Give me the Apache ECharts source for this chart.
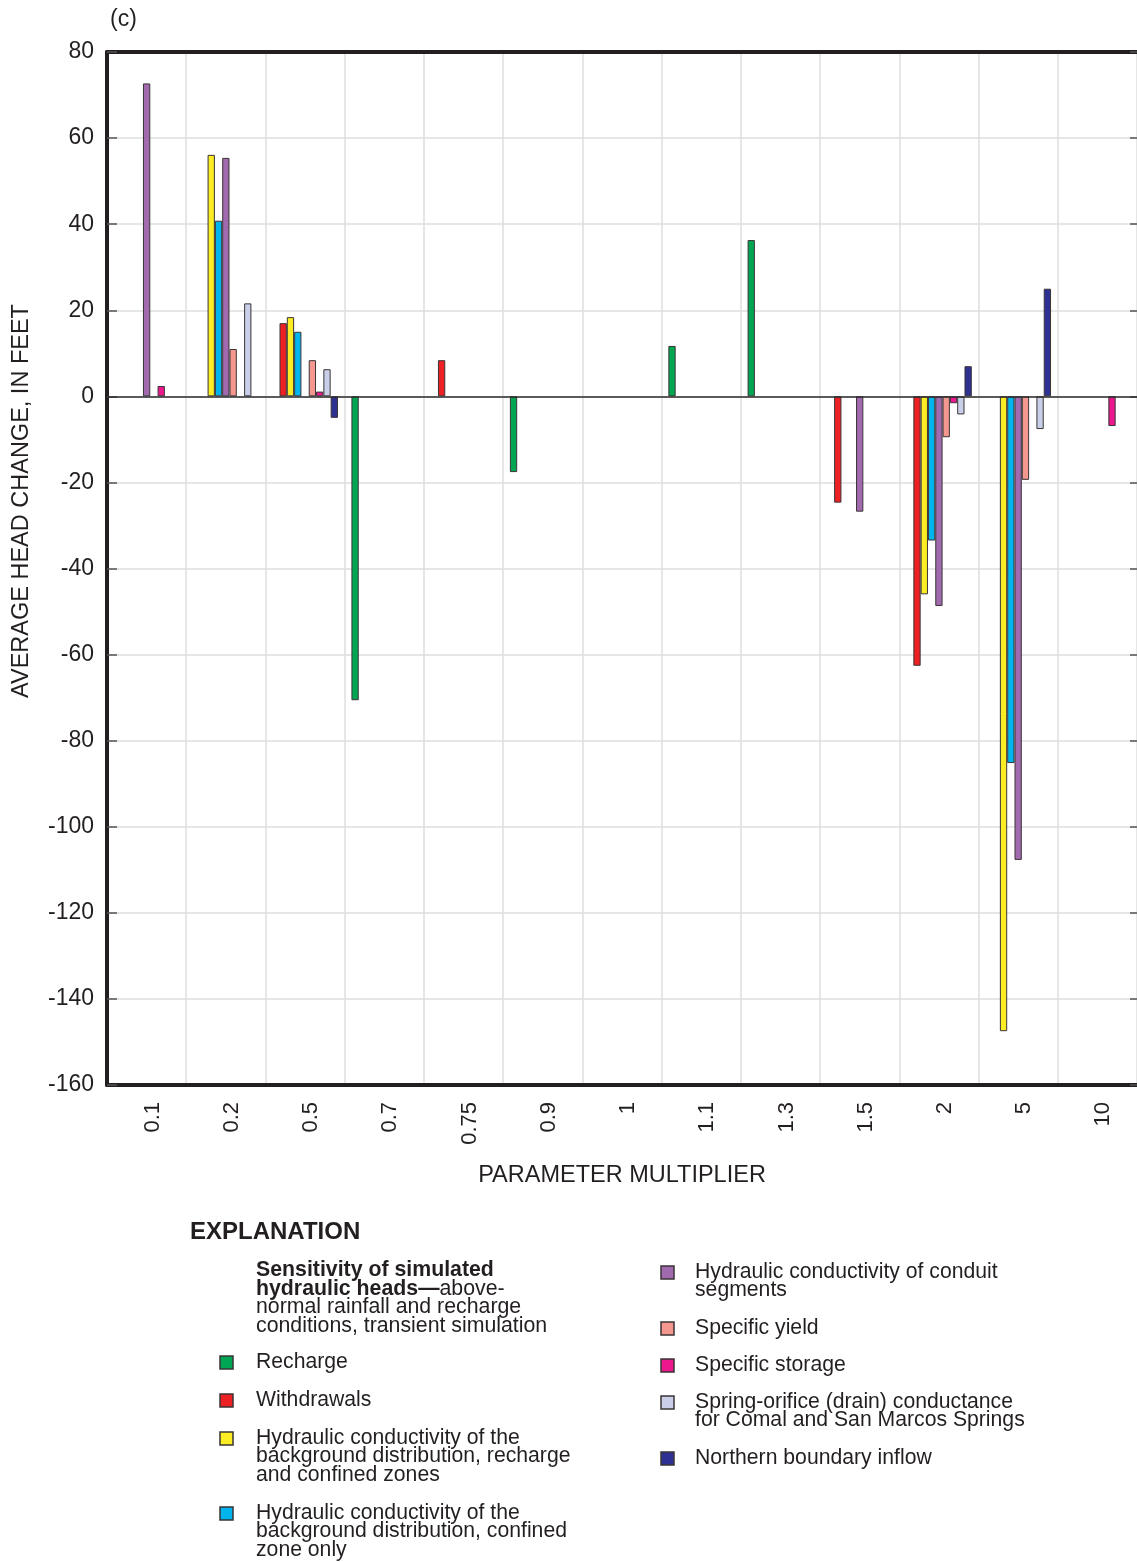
<!DOCTYPE html>
<html>
<head>
<meta charset="utf-8">
<script src="https://cdn.jsdelivr.net/npm/echarts@6/dist/echarts.min.js"></script>
<style>
html,body{margin:0;padding:0;background:#fff;}
#chart{width:1137px;height:1562px;}
</style>
</head>
<body>
<div id="chart"></div>
<script>
// ---- data ----
const categories = ['0.1','0.2','0.5','0.7','0.75','0.9','1','1.1','1.3','1.5','2','5','10'];
const yTicks = [-160,-140,-120,-100,-80,-60,-40,-20,0,20,40,60,80];

const recharge        = [null, null, null, -70.6, null, -17.6, null, 11.7, 36.3, null, null, null, null];
const withdrawals     = [null, null, 17.0, null, 8.4, null, null, null, null, -24.7, -62.6, null, null];
const kBackground     = [null, 56.1, 18.4, null, null, null, null, null, null, null, -46.0, -147.5, null];
const kConfined       = [null, 40.8, 15.0, null, null, null, null, null, null, null, -33.5, -85.2, null];
const kConduit        = [72.7, 55.4, null, null, null, null, null, null, null, -26.8, -48.7, -107.7, null];
const specificYield   = [null, 11.0, 8.4, null, null, null, null, null, null, null, -9.5, -19.4, null];
const specificStorage = [2.4, null, 1.1, null, null, null, null, null, null, null, -1.6, null, -6.9];
const springOrifice   = [null, 21.6, 6.3, null, null, null, null, null, null, null, -4.2, -7.6, null];
const northernInflow  = [null, null, -5.0, null, null, null, null, null, null, null, 7.0, 25.0, null];

const seriesNames = ['Recharge','Withdrawals',
  'Hydraulic conductivity of the background distribution, recharge and confined zones',
  'Hydraulic conductivity of the background distribution, confined zone only',
  'Hydraulic conductivity of conduit segments','Specific yield','Specific storage',
  'Spring-orifice (drain) conductance for Comal and San Marcos Springs','Northern boundary inflow'];
const seriesData = [recharge, withdrawals, kBackground, kConfined, kConduit, specificYield, specificStorage, springOrifice, northernInflow];
const seriesColors = ['#00a651','#ed2024','#fbec23','#00b4ee','#a26aae','#f4978f','#ec178c','#c9cfe8','#2e3192'];
const legendLabels = ['Recharge','Withdrawals',
  'Hydraulic conductivity of the\nbackground distribution, recharge\nand confined zones',
  'Hydraulic conductivity of the\nbackground distribution, confined\nzone only',
  'Hydraulic conductivity of conduit\nsegments','Specific yield','Specific storage',
  'Spring-orifice (drain) conductance\nfor Comal and San Marcos Springs','Northern boundary inflow'];

const FONT = '"Liberation Sans", Arial, Helvetica, sans-serif';
const chart = echarts.init(document.getElementById('chart'), null, {renderer:'canvas'});

const series = seriesData.map((d, i) => ({
  name: seriesNames[i],
  type: 'bar',
  data: d,
  xAxisIndex: 0, yAxisIndex: 0,
  barGap: '0%',
  barCategoryGap: '17%',
  itemStyle: {color: seriesColors[i], borderColor: '#3a3436', borderWidth: 1},
  emphasis: {disabled: true},
  markLine: i === 0 ? {
    silent: true, symbol: 'none', label: {show: false},
    lineStyle: {color: '#2b2b2b', width: 1.5, type: 'solid'},
    data: [{yAxis: 0}], animation: false
  } : undefined
}));

// legend layout (graphic): [series index, icon x, text x, first-line centre y]
const legendOrder = [[0,220,256,1362],[1,220,256,1400],[2,220,256,1438],[3,220,256,1513],
                     [4,661,695,1272],[5,661,695,1328],[6,661,695,1365],[7,661,695,1402],[8,661,695,1458]];
const graphics = [
  {type:'text', left:110, top:8, style:{text:'(c)', font:'23px '+FONT, fill:'#231f20'}},
  {type:'text', x:22, y:501, rotation:Math.PI/2, style:{text:'AVERAGE HEAD CHANGE, IN FEET', font:'23.5px '+FONT, fill:'#231f20', textAlign:'center', textVerticalAlign:'middle'}},
  {type:'text', x:190, y:1232, style:{text:'EXPLANATION', font:'bold 24px '+FONT, fill:'#231f20', textVerticalAlign:'middle'}},
  {type:'text', x:256, y:1261, style:{
    text:'{b|Sensitivity of simulated}\n{b|hydraulic heads\u2014}{n|above-}\n{n|normal rainfall and recharge}\n{n|conditions, transient simulation}',
    fill:'#231f20',
    rich:{b:{font:'bold 21.3px '+FONT, lineHeight:18.6, fill:'#231f20'}, n:{font:'21.3px '+FONT, lineHeight:18.6, fill:'#231f20'}}
  }}
];
legendOrder.forEach(([idx, ix, tx, cy]) => {
  graphics.push({type:'rect', shape:{x:ix, y:cy-6, width:13, height:13},
    style:{fill:seriesColors[idx], stroke:'#3a3436', lineWidth:1.5}});
  graphics.push({type:'text', x:tx, y:cy-9.2, style:{text:legendLabels[idx], font:'21.2px '+FONT, lineHeight:18.4, fill:'#231f20'}});
});

const option = {
  animation: false,
  backgroundColor: '#fff',
  textStyle: {fontFamily: FONT},
  grid: {left:107, right:0, top:52, bottom:477, containLabel:false},
  xAxis: [{
    type:'category', data:categories, position:'bottom',
    axisLine:{onZero:false, lineStyle:{color:'#231f20', width:4}},
    axisTick:{show:false},
    axisLabel:{rotate:90, fontSize:22, color:'#231f20', margin:17, fontFamily:FONT, verticalAlign:'top', lineHeight:12},
    splitLine:{show:true, lineStyle:{color:'#dedede', width:1.5}},
    name:'PARAMETER MULTIPLIER', nameLocation:'middle', nameGap:79,
    nameTextStyle:{fontSize:23.5, color:'#231f20', fontFamily:FONT}
  },{
    type:'category', data:categories, position:'top',
    axisLine:{show:true, onZero:false, lineStyle:{color:'#231f20', width:4}},
    axisTick:{show:false}, axisLabel:{show:false}, splitLine:{show:false}
  }],
  yAxis: [{
    type:'value', min:-160, max:80, interval:20, position:'left',
    axisLine:{show:true, onZero:false, lineStyle:{color:'#231f20', width:4}},
    axisTick:{show:true, inside:true, length:10, lineStyle:{color:'#555', width:1.5}},
    axisLabel:{fontSize:23, color:'#231f20', margin:13, fontFamily:FONT,
      formatter: v => yTicks.includes(v) ? String(v) : ''},
    splitLine:{show:true, lineStyle:{color:'#dedede', width:1.5}}
  },{
    type:'value', min:-160, max:80, interval:20, position:'right',
    axisLine:{show:false, onZero:false},
    axisTick:{show:true, inside:true, length:7, lineStyle:{color:'#555', width:1.5}},
    axisLabel:{show:false}, splitLine:{show:false}
  }],
  series: series,
  graphic: graphics
};
chart.setOption(option);
</script>
</body>
</html>
